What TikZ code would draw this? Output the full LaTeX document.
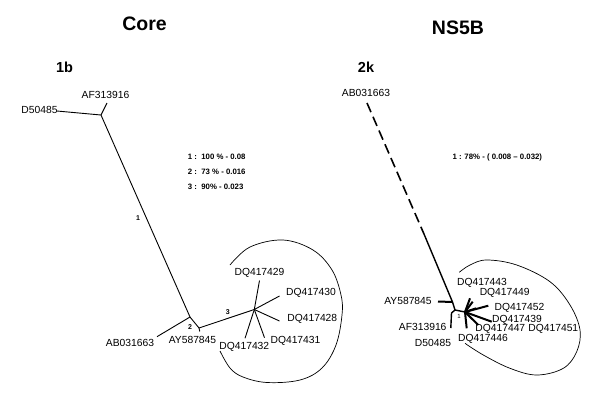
\documentclass[tikz,border=0pt]{standalone}
\usepackage{fontspec}
\setmainfont{Liberation Sans}
\begin{document}
\begin{tikzpicture}[x=1pt,y=-1pt,
  lbl/.style={inner sep=0pt, font=\fontsize{10.3}{12}\selectfont},
  ttl/.style={inner sep=0pt, font=\fontsize{19.5}{22}\selectfont\bfseries},
  sub/.style={inner sep=0pt, font=\fontsize{14.5}{16}\selectfont\bfseries},
  note/.style={inner sep=0pt, anchor=west, font=\fontsize{7.8}{9}\selectfont\bfseries},
  blab/.style={inner sep=0pt, font=\fontsize{7}{8}\selectfont\bfseries},
  slab/.style={inner sep=0pt, font=\fontsize{6}{7}\selectfont},
  br/.style={line width=0.9pt},
  mbr/.style={line width=1.4pt},
  tbr/.style={line width=2pt},
  dbr/.style={line width=1.6pt, dash pattern=on 10pt off 5pt},
  ring/.style={line width=0.7pt}]
\fill[white] (0,0) rectangle (600,402);
\useasboundingbox (0,0) rectangle (600,402);

% titles
\node[ttl] (tcore) at (144.5,23.3) {Core};
\node[ttl] (tns) at (458,27.3) {NS5B};
\node[sub] (s1b) at (64.5,67) {1b};
\node[sub] (s2k) at (366,67) {2k};

% notes
\node[note] (n1) at (187.7,156.7) {1 :\ \ 100 \% - 0.08};
\node[note] (n2) at (187.7,172.3) {2 :\ \ 73 \% - 0.016};
\node[note] (n3) at (187.7,187.3) {3 :\ \ 90\% - 0.023};
\node[note] (n4) at (452.3,157.7) {1 : 78\% - ( 0.008 -- 0.032)};

% ---------- Core tree ----------
\coordinate (a1) at (101,115);
\coordinate (afE) at (107,103);
\coordinate (dE) at (57,111);
\coordinate (b1) at (190,317);
\coordinate (abE) at (157,336.7);
\coordinate (c1) at (199,328);
\coordinate (ayE) at (199.8,331.5);
\coordinate (h1) at (254.3,309.5);
\coordinate (l29) at (259.5,280.5);
\coordinate (l30) at (279.5,296);
\coordinate (l28) at (279.5,321);
\coordinate (l31) at (264.5,337.7);
\coordinate (l32) at (245,338.3);

\draw[br] (dE) -- (a1);
\draw[br] (afE) -- (a1);
\draw[br] (a1) -- (b1);
\draw[br] (abE) -- (b1);
\draw[br] (b1) -- (c1);
\draw[br] (c1) -- (ayE);
\draw[br] (c1) -- (h1);
\foreach \e in {l29,l30,l28,l31,l32} \draw[br] (h1) -- (\e);

\node[lbl] (tD) at (39.5,110.3) {D50485};
\node[lbl] (tAF) at (105.5,95) {AF313916};
\node[lbl] (tAB) at (130,342.7) {AB031663};
\node[lbl] (tAY) at (192.5,340) {AY587845};
\node[lbl] (t29) at (259.5,273.3) {DQ417429};
\node[lbl] (t30) at (311,292.7) {DQ417430};
\node[lbl] (t28) at (312.3,319.3) {DQ417428};
\node[lbl] (t31) at (295.5,341) {DQ417431};
\node[lbl] (t32) at (244.3,346.7) {DQ417432};

\node[blab] (b1l) at (138,218) {1};
\node[blab] (b2l) at (190,326.7) {2};
\node[blab] (b3l) at (227.7,312.3) {3};

\draw[ring] plot[smooth, tension=0.6] coordinates {(230,265) (250,247) (283,240) (313,250) (332,270) (341,295) (342,315) (336,345) (322,368) (300,380) (267,382.5) (243,377) (230,368) (220,351)};

% ---------- NS5B tree ----------
\coordinate (r0) at (367,103);
\coordinate (rm) at (424,234);
\coordinate (re) at (452.5,302);
\coordinate (ayR) at (438,301.5);
\coordinate (rf) at (455,310);
\coordinate (rk) at (451.5,313);
\coordinate (afR) at (450.8,328);
\coordinate (rh) at (465,312);
\coordinate (q1) at (470,298.3);
\coordinate (q2) at (472.7,301.7);
\coordinate (q3) at (488.3,305.7);
\coordinate (q4) at (476,308.3);
\coordinate (q5) at (491.7,321.7);
\coordinate (q6) at (478.3,325);
\coordinate (q7) at (466.7,328.3);

\draw[dbr] (r0) -- (rm);
\draw[mbr] (rm) -- (re);
\draw[mbr] (re) -- (rf);
\draw[mbr] (rf) -- (rh);
\draw[tbr] (ayR) -- (re);
\draw[mbr] (rf) -- (rk) -- (afR);
\foreach \e in {q1,q2,q3,q4,q5,q6,q7} \draw[tbr] (rh) -- (\e);

\node[lbl] (rAB) at (366,93) {AB031663};
\node[lbl] (rAY) at (408,301) {AY587845};
\node[lbl] (rAF) at (422.7,326.7) {AF313916};
\node[lbl] (rD) at (433,342.7) {D50485};
\node[lbl] (r43) at (482,282.7) {DQ417443};
\node[lbl] (r49) at (504.7,293.3) {DQ417449};
\node[lbl] (r52) at (519.5,307.7) {DQ417452};
\node[lbl] (r39) at (517,320) {DQ417439};
\node[lbl] (r47) at (500.3,329.3) {DQ417447};
\node[lbl] (r51) at (553.3,329.3) {DQ417451};
\node[lbl] (r46) at (483,339.3) {DQ417446};
\node[slab] (rb1) at (459,316.7) {1};

\draw[ring] plot[smooth, tension=0.6] coordinates {(459.3,272.3) (470,265) (486.7,260) (516.7,265) (550,281.7) (570,305) (580,330) (576.7,351.7) (563.3,368.3) (536.7,375) (510,368.3) (483.3,355) (465,343.3)};
\end{tikzpicture}
\end{document}
